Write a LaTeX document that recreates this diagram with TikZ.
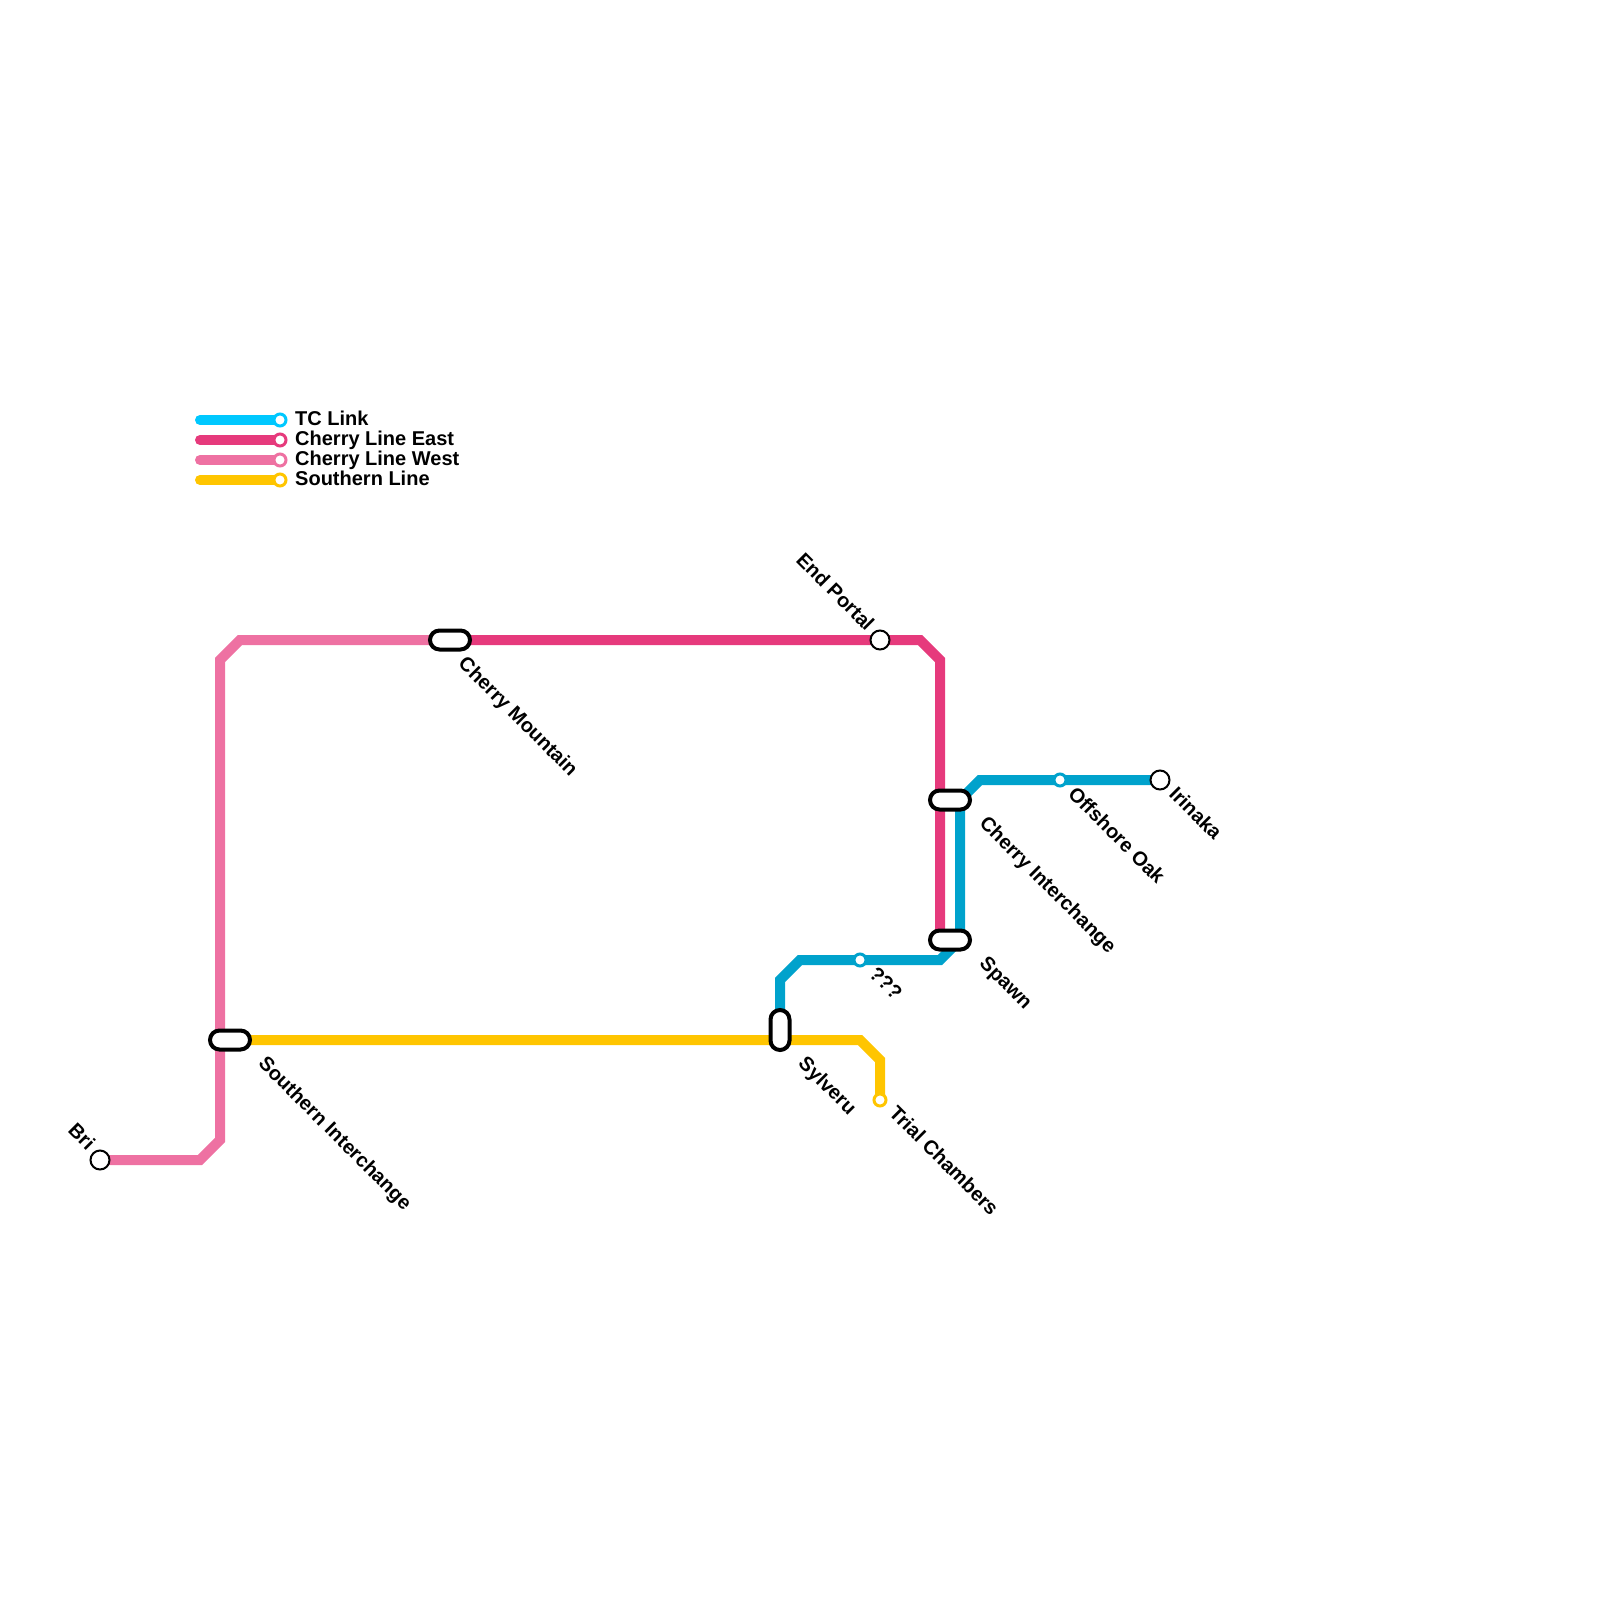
\documentclass[tikz,border=0pt]{standalone}
\usepackage{fontspec}
\setmainfont{Liberation Sans}
\usetikzlibrary{backgrounds}
\definecolor{tclink}{HTML}{00C8FF}
\definecolor{tcmap}{HTML}{00A2CC}
\definecolor{cherryeast}{HTML}{E63A7C}
\definecolor{cherrywest}{HTML}{EE71A2}
\definecolor{southern}{HTML}{FFC500}
\tikzset{
    route/.style={line width=10pt, line join=miter},
    keyline/.style={line width=10pt, line cap=round},
    terminus/.style={circle, draw=black, fill=white, line width=2pt, minimum size=19pt, inner sep=0pt, outer sep=0pt},
    halt/.style={circle, draw=#1, fill=white, line width=3pt, minimum size=12pt, inner sep=0pt, outer sep=0pt},
    pillh/.style={rectangle, draw=black, fill=white, line width=4pt, rounded corners=9.5pt, minimum width=40pt, minimum height=19pt, inner sep=0pt, outer sep=0pt},
    pillv/.style={rectangle, draw=black, fill=white, line width=4pt, rounded corners=9.5pt, minimum width=19pt, minimum height=40pt, inner sep=0pt, outer sep=0pt},
    lbl/.style={font=\fontsize{20}{22}\selectfont\bfseries, inner sep=0pt},
    lblse/.style={lbl, rotate=-45, anchor=west},
    lblnw/.style={lbl, rotate=-45, anchor=east},
    keylbl/.style={lbl, anchor=base west}
}
\begin{document}
\begin{tikzpicture}[x=1pt, y=-1pt]
    \useasboundingbox (0,0) rectangle (1600,1600);

    % Stations
    \node[terminus] (bri) at (100,1160) {};
    \node[terminus] (endportal) at (880,640) {};
    \node[terminus] (irinaka) at (1160,780) {};
    \node[halt=tcmap] (offshore) at (1060,780) {};
    \node[halt=tcmap] (unknown) at (860,960) {};
    \node[halt=southern] (trial) at (880,1100) {};
    \node[pillh] (mountain) at (450,640) {};
    \node[pillh] (cherryint) at (950,800) {};
    \node[pillh] (spawn) at (950,940) {};
    \node[pillh] (southernint) at (230,1040) {};
    \node[pillv] (sylveru) at (780,1030) {};

    % Station labels
    \node[lblnw] (bril) at (92,1146) {Bri};
    \node[lblnw] (endportall) at (871,627) {End Portal};
    \node[lblse] (mountainl) at (461,661) {Cherry Mountain};
    \node[lblse] (southernintl) at (261,1061) {Southern Interchange};
    \node[lblse] (sylverul) at (801,1061) {Sylveru};
    \node[lblse] (triall) at (893,1109) {Trial Chambers};
    \node[lblse] (unknownl) at (873,970) {???};
    \node[lblse] (spawnl) at (982,961) {Spawn};
    \node[lblse] (cherryintl) at (982,821) {Cherry Interchange};
    \node[lblse] (offshorel) at (1072,790) {Offshore Oak};
    \node[lblse] (irinakal) at (1173,790) {Irinaka};

    % Key
    \foreach \y/\c/\t/\n in {420/tclink/TC Link/tc, 440/cherryeast/Cherry Line East/east, 460/cherrywest/Cherry Line West/west, 480/southern/Southern Line/south} {
        \coordinate (key\n) at (200,\y);
        \node[halt=\c] (keyend\n) at (280,\y) {};
        \node[keylbl] (keylbl\n) at (295,\y+5) {\t};
        \begin{scope}[on background layer]
            \draw[keyline, \c] (key\n) -- (keyend\n);
        \end{scope}
    }

    % Lines
    \begin{scope}[on background layer]
        \coordinate (mountainw) at (440,640);
        \coordinate (cherryintw) at (940,800);
        \coordinate (cherryinte) at (960,800);
        \coordinate (spawnw) at (940,940);
        \coordinate (spawne) at (960,940);
        \coordinate (southernintw) at (220,1040);
        \coordinate (southerninte) at (240,1040);
        \coordinate (sylverus) at (780,1040);
        \coordinate (sylverun) at (780,1020);

        \draw[route, cherrywest] (bri.center) -- (200,1160) -- (220,1140) -- (southernintw) -- (220,660) -- (240,640) -- (mountainw);
        \draw[route, cherryeast] (mountain.center) -- (endportal.center) -- (920,640) -- (940,660) -- (cherryintw) -- (spawnw);
        \draw[route, tcmap] (irinaka.center) -- (offshore.center) -- (980,780) -- (cherryinte) -- (spawne) -- (940,960) -- (unknown.center) -- (800,960) -- (780,980) -- (sylverun);
        \draw[route, southern] (southerninte) -- (sylverus) -- (860,1040) -- (880,1060) -- (trial.center);
    \end{scope}
\end{tikzpicture}
\end{document}
